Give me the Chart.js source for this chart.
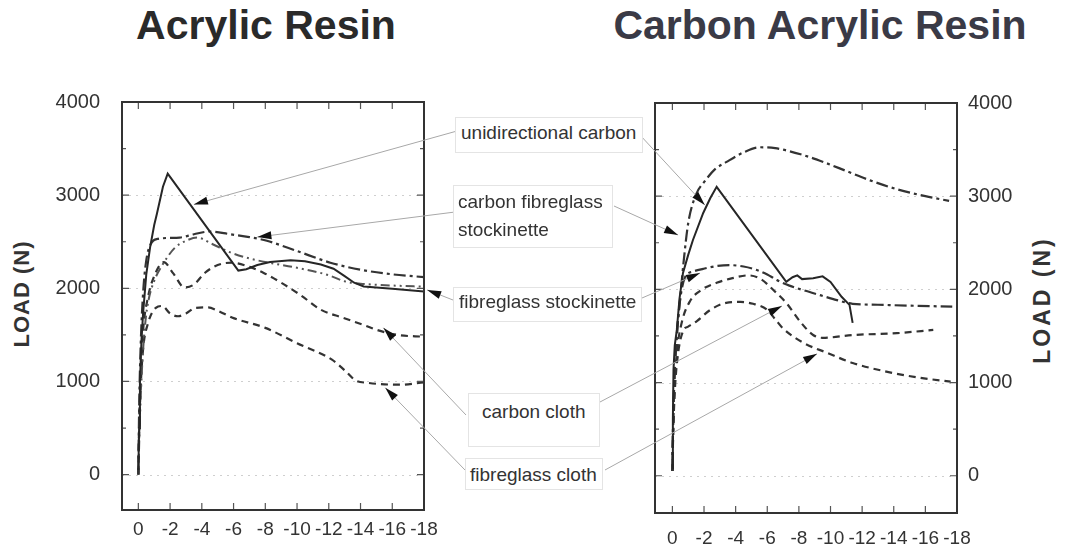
<!DOCTYPE html>
<html>
<head>
<meta charset="utf-8">
<script src="https://cdn.jsdelivr.net/npm/chart.js@4.4.1/dist/chart.umd.min.js"></script>
<style>
  html, body { margin: 0; padding: 0; background: #fff; }
  body { width: 1066px; height: 547px; position: relative; overflow: hidden;
         font-family: "Liberation Sans", Arial, sans-serif; color: #333; }
  .panel { position: absolute; top: 0; height: 547px; z-index: 1; }
  #leftWrap { left: 0; width: 460px; }
  #rightWrap { left: 640px; width: 426px; }
  .title { position: absolute; top: 1px; font-weight: bold; font-size: 41px; line-height: 48px;
           white-space: nowrap; transform: translateX(-50%); }
  .ylab { position: absolute; font-weight: bold; white-space: nowrap; line-height: 1;
          transform: translate(-50%, -50%) rotate(-90deg); }
  #overlay { position: absolute; left: 0; top: 0; z-index: 2; pointer-events: none; }
  .tag { position: absolute; z-index: 3; background: #fff; border: 1px solid #e4e4e4;
         box-sizing: border-box; font-size: 19px; line-height: 28px; white-space: nowrap; color: #333; }
</style>
</head>
<body>

<div class="title" style="left:266px; color:#2a2a2a;">Acrylic Resin</div>
<div class="title" style="left:820px; color:#3a3a46;">Carbon Acrylic Resin</div>

<div class="ylab" style="left:22px; top:294px; font-size:22px; letter-spacing:1px;">LOAD (N)</div>
<div class="ylab" style="left:1042px; top:300px; font-size:23px; letter-spacing:3px;">LOAD (N)</div>

<div class="panel" id="leftWrap"><canvas id="leftChart"></canvas></div>
<div class="panel" id="rightWrap"><canvas id="rightChart"></canvas></div>
<canvas id="overlay" width="1066" height="547"></canvas>

<div class="tag" style="left:455px; top:117px; width:188px; height:36px; padding:1px 0 0 5px;">unidirectional carbon</div>
<div class="tag" style="left:453px; top:185px; width:160px; height:63px; padding:2px 0 0 4px;">carbon fibreglass<br>stockinette</div>
<div class="tag" style="left:453px; top:287px; width:189px; height:35px; padding:0 0 0 5px;">fibreglass stockinette</div>
<div class="tag" style="left:468px; top:393px; width:132px; height:54px; padding:4px 0 0 13px;">carbon cloth</div>
<div class="tag" style="left:465px; top:458px; width:138px; height:32px; padding:2px 0 0 4px;">fibreglass cloth</div>

<script>
// axis ticks (displacement, mm and load, N)
const xTicks = [0, -2, -4, -6, -8, -10, -12, -14, -16, -18];
const yTicks = [0, 1000, 2000, 3000, 4000];
const yMinor = [500, 1500, 2500, 3500];

const seriesNames = ['unidirectional carbon', 'carbon fibreglass stockinette',
                     'fibreglass stockinette', 'carbon cloth', 'fibreglass cloth'];

// Acrylic Resin  [displacement, load]
const acrUni = [[0,50],[-0.05,500],[-0.1,1000],[-0.2,1450],[-0.3,1735],[-0.5,2150],[-0.74,2440],
  [-1.0,2680],[-1.17,2800],[-1.55,3090],[-1.85,3230],[-6.3,2190],[-6.8,2205],[-7.5,2250],[-8.3,2283],
  [-9.6,2300],[-10.5,2290],[-11.5,2255],[-12.3,2210],[-13,2130],[-13.6,2060],[-14.2,2020],[-16,1995],[-18,1965]];
const acrCFS = [[0,0],[-0.05,700],[-0.15,1400],[-0.3,1950],[-0.5,2300],[-0.8,2480],[-1.2,2530],[-2.6,2545],
  [-3.5,2580],[-4.5,2610],[-5.8,2580],[-7,2550],[-8.1,2510],[-10,2400],[-12.1,2275],[-14,2200],[-16,2150],[-18,2120]];
const acrFS = [[0,0],[-0.1,600],[-0.25,1200],[-0.45,1650],[-0.65,1880],[-1.0,2080],[-1.45,2232],[-2.3,2435],
  [-3.0,2510],[-3.7,2545],[-4.6,2480],[-5.8,2385],[-7,2320],[-8.4,2270],[-10,2220],[-12,2140],[-13,2075],
  [-14,2050],[-16,2030],[-18,2017]];
const acrCC = [[0,0],[-0.05,500],[-0.15,1100],[-0.3,1550],[-0.6,1900],[-1.0,2130],[-1.6,2280],[-2.2,2160],
  [-2.9,2010],[-3.5,2040],[-4.2,2167],[-5.0,2250],[-5.9,2275],[-7.0,2230],[-7.9,2165],[-9,2060],[-10.2,1930],
  [-11.5,1770],[-12.9,1683],[-14.3,1600],[-15,1555],[-16.3,1500],[-18,1480]];
const acrFC = [[0,0],[-0.05,450],[-0.15,950],[-0.3,1350],[-0.6,1620],[-1.1,1790],[-1.5,1810],[-2.0,1730],
  [-2.5,1700],[-3.0,1730],[-3.6,1790],[-4.4,1795],[-5.0,1760],[-6,1680],[-8,1575],[-10,1410],[-12.2,1234],
  [-13,1120],[-13.7,1010],[-14.4,986],[-16.5,965],[-18,990]];

// Carbon Acrylic Resin  [displacement, load]
const carUni = [[0,80],[-0.03,600],[-0.07,1136],[-0.15,1400],[-0.28,1565],[-0.45,1900],[-0.67,2176],
  [-1.0,2370],[-1.3,2530],[-1.95,2820],[-2.4,2980],[-2.8,3100],[-7.2,2080],[-7.6,2130],[-7.9,2150],
  [-8.2,2110],[-8.9,2120],[-9.5,2140],[-10,2080],[-10.7,1920],[-11.2,1833],[-11.4,1640]];
const carCFS = [[0,50],[-0.05,600],[-0.15,1150],[-0.3,1550],[-0.5,1920],[-0.7,2280],[-1.0,2710],[-1.5,3020],
  [-2.0,3150],[-2.7,3290],[-3.4,3365],[-4.5,3470],[-5.5,3525],[-6.5,3515],[-8.3,3440],[-9.5,3370],[-11,3270],
  [-12.5,3170],[-14.2,3075],[-16,3000],[-17.5,2950]];
const carFS = [[0,50],[-0.05,600],[-0.15,1100],[-0.3,1550],[-0.5,1900],[-0.8,2130],[-1.3,2190],[-1.95,2220],
  [-2.8,2250],[-3.6,2260],[-4.5,2245],[-5.3,2210],[-6,2160],[-6.6,2100],[-7.4,2040],[-8.3,1990],[-9.4,1935],
  [-10.4,1885],[-11.4,1845],[-13,1835],[-15,1825],[-17.7,1815]];
const carCC = [[0,50],[-0.05,500],[-0.15,1000],[-0.3,1350],[-0.6,1650],[-1.1,1870],[-1.8,1990],[-2.8,2070],
  [-3.8,2120],[-4.8,2150],[-5.6,2110],[-6.4,1990],[-7.2,1855],[-8.1,1650],[-8.9,1510],[-9.5,1480],
  [-11.4,1510],[-14.2,1530],[-16.5,1565]];
const carFC = [[0,50],[-0.05,450],[-0.15,900],[-0.35,1300],[-0.7,1560],[-1.0,1600],[-1.55,1660],[-2.4,1780],
  [-3.4,1855],[-4.3,1865],[-5.1,1845],[-6.0,1780],[-6.5,1680],[-7.0,1580],[-8.3,1425],[-9.8,1318],
  [-11.4,1210],[-13.6,1115],[-15.7,1050],[-17.6,1010]];

// where the label arrows point, in each chart's data units (same order as seriesNames)
const arrowTipsLeft  = [[-3.5,2900],[-7.5,2550],[-18.2,1983],[-15.44,1576],[-15.56,933]];
const arrowTipsRight = [[-2.05,2905],[-0.36,2583],[-1.75,2175],[-6.93,1822],[-9.15,1308]];
// where each leader leaves its label box (page px)
const leaderTailsLeft  = [[457,131],[455,212],[453,300],[466,415],[465,470]];
const leaderTailsRight = [[640,135],[614,206],[642,298],[600,402],[605,470]];

const solid   = { color: '#262626', width: 2,   dash: [],                tension: 0 };
const dashDot = { color: '#333333', width: 2.2, dash: [12, 4, 3, 4],     tension: 0.4 };
const dashDD  = { color: '#555555', width: 2,   dash: [9, 4, 2, 4, 2, 4], tension: 0.4 };
const dashed  = { color: '#333333', width: 2.2, dash: [7, 5],            tension: 0.4 };
const leftStyles  = [solid, dashDot, dashDD, dashed, dashed];
const rightStyles = [solid, dashDot, dashDot, dashed, dashed];

const FONT = '"Liberation Sans", Arial, sans-serif';

// box frame, dotted grid and inward tick marks
const framePlugin = {
  id: 'frame',
  beforeDatasetsDraw(chart) {
    const { ctx, chartArea: a, scales: { y } } = chart;
    ctx.save();
    ctx.strokeStyle = '#cfcfcf';
    ctx.lineWidth = 1;
    ctx.setLineDash([2, 5]);
    yTicks.slice(0, -1).forEach(v => {
      const py = Math.round(y.getPixelForValue(v)) + 0.5;
      ctx.beginPath(); ctx.moveTo(a.left, py); ctx.lineTo(a.right, py); ctx.stroke();
    });
    ctx.restore();
  },
  afterDatasetsDraw(chart) {
    const { ctx, chartArea: a, scales: { x, y } } = chart;
    ctx.save();
    ctx.strokeStyle = '#555';
    ctx.lineWidth = 1.2;
    xTicks.forEach(v => {
      const px = x.getPixelForValue(v);
      ctx.beginPath();
      ctx.moveTo(px, a.bottom); ctx.lineTo(px, a.bottom - 7);
      ctx.moveTo(px, a.top); ctx.lineTo(px, a.top + 7);
      ctx.stroke();
    });
    yTicks.forEach(v => {
      const py = y.getPixelForValue(v);
      ctx.beginPath();
      ctx.moveTo(a.left, py); ctx.lineTo(a.left + 7, py);
      ctx.moveTo(a.right, py); ctx.lineTo(a.right - 7, py);
      ctx.stroke();
    });
    yMinor.forEach(v => {
      const py = y.getPixelForValue(v);
      ctx.beginPath();
      ctx.moveTo(a.left, py); ctx.lineTo(a.left + 4, py);
      ctx.moveTo(a.right, py); ctx.lineTo(a.right - 4, py);
      ctx.stroke();
    });
    ctx.strokeStyle = '#333';
    ctx.lineWidth = 2;
    ctx.strokeRect(a.left, a.top, a.right - a.left, a.bottom - a.top);
    ctx.restore();
  }
};

function makeChart(id, series, styles, cfg) {
  const datasets = series.map((pts, i) => ({
    label: seriesNames[i],
    data: pts.map(p => ({ x: p[0], y: p[1] })),
    borderColor: styles[i].color,
    borderWidth: styles[i].width,
    borderDash: styles[i].dash,
    tension: styles[i].tension,
    cubicInterpolationMode: styles[i].tension ? 'monotone' : 'default',
    pointRadius: 0,
    fill: false
  }));
  return new Chart(document.getElementById(id), {
    type: 'line',
    data: { datasets },
    plugins: [framePlugin],
    options: {
      responsive: true,
      maintainAspectRatio: false,
      animation: false,
      layout: { padding: cfg.padding },
      plugins: { legend: { display: false }, tooltip: { enabled: false } },
      scales: {
        x: {
          type: 'linear', reverse: true, min: -18, max: cfg.xMax,
          afterBuildTicks: s => { s.ticks = xTicks.map(v => ({ value: v })); },
          afterFit: s => { s.height = cfg.xHeight; },
          grid: { display: false }, border: { display: false },
          ticks: { color: '#333', padding: cfg.xPad, maxRotation: 0, autoSkip: false,
                   font: { family: FONT, size: 19 }, callback: v => String(v) }
        },
        y: {
          type: 'linear', position: cfg.side, min: cfg.yMin, max: 4000,
          afterBuildTicks: s => { s.ticks = yTicks.map(v => ({ value: v })); },
          afterFit: s => { s.width = cfg.yWidth; },
          grid: { display: false }, border: { display: false },
          ticks: { color: '#333', padding: cfg.yPad,
                   font: { family: FONT, size: 20 }, callback: v => String(v) }
        }
      }
    }
  });
}

const leftChart = makeChart('leftChart', [acrUni, acrCFS, acrFS, acrCC, acrFC], leftStyles, {
  padding: { left: 0, top: 102, right: 36, bottom: 0 },
  side: 'left', xMax: 1.03, yMin: -380, xHeight: 37, yWidth: 122, xPad: 0, yPad: 14
});
const rightChart = makeChart('rightChart', [carUni, carCFS, carFS, carCC, carFC], rightStyles, {
  padding: { left: 15, top: 103, right: 0, bottom: 0 },
  side: 'right', xMax: 1.1, yMin: -400, xHeight: 34, yWidth: 109, xPad: 6, yPad: 3
});

// leader lines from the middle labels to the curves
function drawLeaders() {
  const ctx = document.getElementById('overlay').getContext('2d');
  ctx.clearRect(0, 0, 1066, 547);
  const sets = [
    [leftChart, 0, arrowTipsLeft, leaderTailsLeft],
    [rightChart, 640, arrowTipsRight, leaderTailsRight]
  ];
  sets.forEach(([chart, offX, tips, tails]) => {
    tips.forEach((t, i) => {
      const tx = chart.scales.x.getPixelForValue(t[0]) + offX;
      const ty = chart.scales.y.getPixelForValue(t[1]);
      const [sx, sy] = tails[i];
      ctx.strokeStyle = '#a8a8a8';
      ctx.lineWidth = 1;
      ctx.beginPath(); ctx.moveTo(sx, sy); ctx.lineTo(tx, ty); ctx.stroke();
      const ang = Math.atan2(ty - sy, tx - sx);
      const L = 14, W = 4;
      const bx = tx - L * Math.cos(ang), by = ty - L * Math.sin(ang);
      ctx.fillStyle = '#111';
      ctx.beginPath();
      ctx.moveTo(tx, ty);
      ctx.lineTo(bx + W * Math.sin(ang), by - W * Math.cos(ang));
      ctx.lineTo(bx - W * Math.sin(ang), by + W * Math.cos(ang));
      ctx.closePath();
      ctx.fill();
    });
  });
}
drawLeaders();
</script>
</body>
</html>
